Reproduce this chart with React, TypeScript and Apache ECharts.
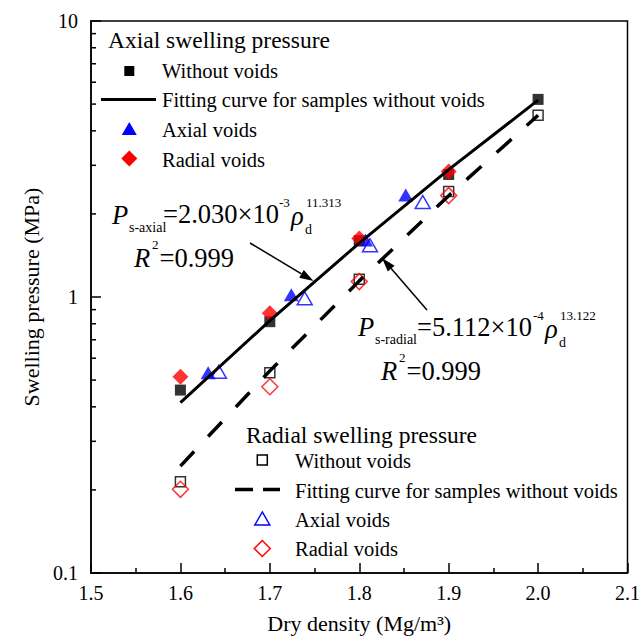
import React, { useEffect, useRef } from "react";
import * as echarts from "echarts";

// ---------- data ----------
const xTicks = [1.5, 1.6, 1.7, 1.8, 1.9, 2.0, 2.1];
const yMinorTicks = [0.2, 0.3, 0.4, 0.5, 0.6, 0.7, 0.8, 0.9, 2, 3, 4, 5, 6, 7, 8, 9];

const axialWithout = [[1.6, 0.46], [1.7, 0.814], [1.8, 1.6], [1.9, 2.78], [2.0, 5.2]];
const axialAxialVoids = [[1.631, 0.532], [1.724, 1.02], [1.807, 1.61], [1.852, 2.34]];
const axialRadialVoids = [[1.6, 0.514], [1.7, 0.873], [1.8, 1.63], [1.9, 2.85]];
const axialFit = [[1.6, 0.414], [1.7, 0.821], [1.8, 1.568], [1.9, 2.894], [2.0, 5.166]];

const radialWithout = [[1.6, 0.214], [1.7, 0.532], [1.8, 1.16], [1.9, 2.41], [2.0, 4.56]];
const radialAxialVoids = [[1.643, 0.536], [1.739, 0.99], [1.812, 1.54], [1.871, 2.21]];
const radialRadialVoids = [[1.6, 0.201], [1.7, 0.473], [1.8, 1.137], [1.9, 2.33]];
const radialFit = [[1.6, 0.244], [1.7, 0.54], [1.8, 1.144], [1.9, 2.327], [2.0, 4.555]];

const FONT = '"Times New Roman", "Liberation Serif", serif';

function txt(text: string, x: number, y: number, size: number, italic = false) {
  return {
    type: "text",
    silent: true,
    style: {
      text,
      x,
      y,
      fontSize: size,
      fontFamily: FONT,
      fontStyle: italic ? "italic" : "normal",
      fill: "#000",
      align: "left",
      verticalAlign: "middle",
    },
  };
}

function arrow(x1: number, y1: number, x2: number, y2: number) {
  const dx = x2 - x1, dy = y2 - y1;
  const len = Math.sqrt(dx * dx + dy * dy);
  const ux = dx / len, uy = dy / len;
  const hl = 14, hw = 4.5;
  const bx = x2 - ux * hl, by = y2 - uy * hl;
  return [
    {
      type: "line",
      silent: true,
      shape: { x1, y1, x2: bx, y2: by },
      style: { stroke: "#000", lineWidth: 1.5 },
    },
    {
      type: "polygon",
      silent: true,
      shape: {
        points: [
          [x2, y2],
          [bx - uy * hw, by + ux * hw],
          [bx + uy * hw, by - ux * hw],
        ],
      },
      style: { fill: "#000" },
    },
  ];
}

function tri(cx: number, cy: number, w: number, h: number, filled: boolean, color: string) {
  return {
    type: "polygon",
    silent: true,
    shape: { points: [[cx, cy - h / 2], [cx - w / 2, cy + h / 2], [cx + w / 2, cy + h / 2]] },
    style: filled ? { fill: color } : { fill: "none", stroke: color, lineWidth: 1.5 },
  };
}
function dia(cx: number, cy: number, s: number, filled: boolean, color: string) {
  return {
    type: "polygon",
    silent: true,
    shape: { points: [[cx, cy - s / 2], [cx + s / 2, cy], [cx, cy + s / 2], [cx - s / 2, cy]] },
    style: filled ? { fill: color } : { fill: "none", stroke: color, lineWidth: 1.5 },
  };
}
function sq(cx: number, cy: number, s: number, filled: boolean) {
  return {
    type: "rect",
    silent: true,
    shape: { x: cx - s / 2, y: cy - s / 2, width: s, height: s },
    style: filled ? { fill: "#000" } : { fill: "none", stroke: "#000", lineWidth: 1.5 },
  };
}

export default function App() {
  const ref = useRef<HTMLDivElement>(null);
  useEffect(() => {
    if (!ref.current) return;
    const chart = echarts.init(ref.current, null, { renderer: "svg" });
    const LX = 129.3;
    const RX = 262.3;
    const graphic: any[] = [
      // axial legend
      txt("Axial swelling pressure", 108, 40, 23.5),
      sq(LX, 71, 10, true),
      txt("Without voids", 162, 71, 20.5),
      { type: "line", silent: true, shape: { x1: 101, y1: 99.5, x2: 156, y2: 99.5 }, style: { stroke: "#000", lineWidth: 3 } },
      txt("Fitting curve for samples without voids", 162, 100, 20.5),
      tri(LX, 128.5, 15, 13, true, "#0000ff"),
      txt("Axial voids", 162, 130, 20.5),
      dia(LX, 158.5, 16, true, "#ff0000"),
      txt("Radial voids", 162, 160, 20.5),
      // radial legend
      txt("Radial swelling pressure", 246, 435, 23.5),
      sq(RX, 460, 10, false),
      txt("Without voids", 295, 461, 20.5),
      { type: "line", silent: true, shape: { x1: 235, y1: 489.5, x2: 280, y2: 489.5 }, style: { stroke: "#000", lineWidth: 3.5, lineDash: [18, 10] } },
      txt("Fitting curve for samples without voids", 295, 490.5, 20.5),
      tri(RX, 518.5, 15, 13, false, "#0000ff"),
      txt("Axial voids", 295, 520, 20.5),
      dia(RX, 548.5, 16, false, "#ff0000"),
      txt("Radial voids", 295, 549, 20.5),
      // axial equation
      txt("P", 112, 215, 26.5, true),
      txt("s-axial", 129, 227, 14),
      txt("=2.030×10", 163, 214, 26.5),
      txt("-3", 279, 202, 13),
      txt("ρ", 291, 216, 26.5, true),
      txt("d", 305, 229, 14),
      txt("11.313", 306, 202, 13),
      txt("R", 134, 258, 26.5, true),
      txt("2", 152, 244, 13),
      txt("=0.999", 159.5, 258, 26.5),
      // radial equation
      txt("P", 358, 327, 26.5, true),
      txt("s-radial", 375, 339, 14),
      txt("=5.112×10", 417, 327, 26.5),
      txt("-4", 533, 315, 13),
      txt("ρ", 545, 329, 26.5, true),
      txt("d", 559, 342, 14),
      txt("13.122", 560, 315, 13),
      txt("R", 381, 371, 26.5, true),
      txt("2", 399, 357, 13),
      txt("=0.999", 406.5, 371, 26.5),
      ...arrow(250, 243, 313.5, 281),
      ...arrow(427, 310, 382, 258),
    ];

    const option: any = {
      animation: false,
      backgroundColor: "#fff",
      grid: {
        left: 91,
        right: 14,
        top: 21,
        bottom: 71,
        show: true,
        borderColor: "#000",
        borderWidth: 1.5,
        backgroundColor: "transparent",
      },
      xAxis: {
        type: "value",
        min: xTicks[0],
        max: xTicks[xTicks.length - 1],
        interval: 0.1,
        name: "Dry density (Mg/m³)",
        nameLocation: "middle",
        nameGap: 39,
        nameTextStyle: { fontFamily: FONT, fontSize: 22, color: "#000" },
        axisLine: { show: true, lineStyle: { color: "#000", width: 1.5 } },
        axisTick: { show: true, inside: true, length: 10, lineStyle: { color: "#000", width: 1.5 } },
        minorTick: { show: true, splitNumber: 2, length: 5, lineStyle: { color: "#000", width: 1.5 } },
        splitLine: { show: false },
        axisLabel: {
          show: true,
          margin: 10,
          fontFamily: FONT,
          fontSize: 20,
          color: "#000",
          showMinLabel: true,
          showMaxLabel: true,
          formatter: (v: number) => v.toFixed(1),
        },
      },
      yAxis: {
        type: "log",
        logBase: 10,
        min: 0.1,
        max: 10,
        name: "Swelling pressure (MPa)",
        nameLocation: "middle",
        nameGap: 39,
        nameTextStyle: { fontFamily: FONT, fontSize: 22, color: "#000" },
        axisLine: { show: true, lineStyle: { color: "#000", width: 1.5 } },
        axisTick: { show: true, inside: true, length: 10, lineStyle: { color: "#000", width: 1.5 } },
        splitLine: { show: false },
        axisLabel: {
          margin: 13,
          fontFamily: FONT,
          fontSize: 20,
          color: "#000",
          showMinLabel: true,
          showMaxLabel: true,
          formatter: (v: number) => (v < 1 ? v.toFixed(1) : String(Math.round(v))),
        },
      },
      graphic,
      series: [
        {
          type: "custom",
          clip: false,
          silent: true,
          data: yMinorTicks.map((v) => [xTicks[0], v]),
          renderItem: (params: any, api: any) => {
            const p = api.coord([api.value(0), api.value(1)]);
            return {
              type: "line",
              shape: { x1: p[0], y1: p[1], x2: p[0] + 5, y2: p[1] },
              style: { stroke: "#000", lineWidth: 1.5 },
            };
          },
          z: 5,
        },
        {
          type: "scatter",
          data: radialWithout,
          symbol: "rect",
          symbolSize: 10,
          itemStyle: { color: "transparent", borderColor: "#000", borderWidth: 1.5 },
          z: 2,
        },
        {
          type: "scatter",
          data: radialRadialVoids,
          symbol: "diamond",
          symbolSize: 16,
          itemStyle: { color: "transparent", borderColor: "#ff0000", borderWidth: 1.5 },
          z: 2,
        },
        {
          type: "scatter",
          data: radialAxialVoids,
          symbol: "triangle",
          symbolSize: [15, 13],
          itemStyle: { color: "transparent", borderColor: "#0000ff", borderWidth: 1.5 },
          z: 2,
        },
        {
          type: "scatter",
          data: axialWithout,
          symbol: "rect",
          symbolSize: 11,
          itemStyle: { color: "#000" },
          z: 2,
        },
        {
          type: "scatter",
          data: axialAxialVoids,
          symbol: "triangle",
          symbolSize: [15, 13],
          itemStyle: { color: "#0000ff" },
          z: 2,
        },
        {
          type: "scatter",
          data: axialRadialVoids,
          symbol: "diamond",
          symbolSize: 16,
          itemStyle: { color: "#ff0000" },
          z: 2,
        },
        {
          type: "line",
          data: axialFit,
          symbol: "none",
          lineStyle: { color: "#000", width: 3 },
          z: 3,
        },
        {
          type: "line",
          data: radialFit,
          symbol: "none",
          lineStyle: { color: "#000", width: 3.5, type: [20, 20.5] },
          z: 3,
        },
      ],
    };
    chart.setOption(option);
    return () => chart.dispose();
  }, []);
  return (
    <div
      ref={ref}
      style={{ position: "fixed", left: 0, top: 0, width: 643, height: 644, background: "#fff" }}
    />
  );
}
